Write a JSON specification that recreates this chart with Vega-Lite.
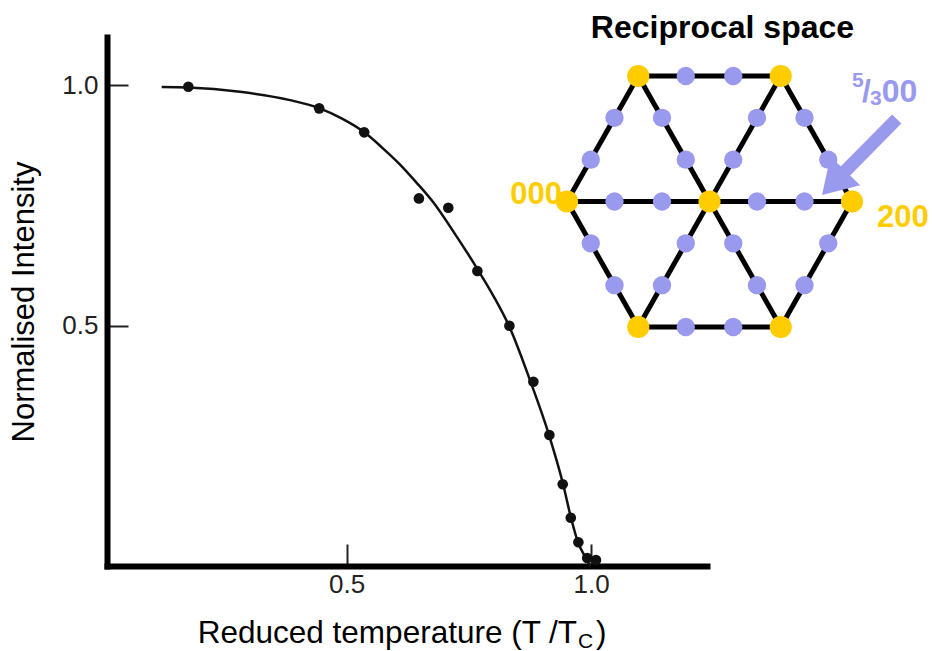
{
  "$schema": "https://vega.github.io/schema/vega-lite/v6.json",
  "width": 600,
  "height": 529,
  "autosize": "none",
  "padding": {"left": 107, "top": 37, "right": 225, "bottom": 85},
  "background": "white",
  "config": {"view": {"stroke": null}, "font": "Liberation Sans"},
  "datasets": {
    "curve": [
      {"t": 0.122, "i": 0.9958},
      {"t": 0.176, "i": 0.9948},
      {"t": 0.282, "i": 0.9861},
      {"t": 0.3844, "i": 0.9688},
      {"t": 0.4437, "i": 0.9522},
      {"t": 0.4908, "i": 0.9304},
      {"t": 0.5358, "i": 0.9023},
      {"t": 0.5726, "i": 0.8701},
      {"t": 0.6094, "i": 0.8347},
      {"t": 0.6421, "i": 0.7983},
      {"t": 0.6769, "i": 0.7568},
      {"t": 0.7219, "i": 0.6902},
      {"t": 0.7689, "i": 0.6154},
      {"t": 0.8016, "i": 0.5593},
      {"t": 0.8323, "i": 0.499},
      {"t": 0.875, "i": 0.3867},
      {"t": 0.914, "i": 0.2723},
      {"t": 0.9427, "i": 0.1705},
      {"t": 0.959, "i": 0.0998},
      {"t": 0.973, "i": 0.0499},
      {"t": 0.988, "i": 0.0187},
      {"t": 0.998, "i": 0.0}
    ],
    "points": [
      {"t": 0.1765, "i": 0.9965},
      {"t": 0.444, "i": 0.9516},
      {"t": 0.536, "i": 0.9017},
      {"t": 0.648, "i": 0.7644},
      {"t": 0.708, "i": 0.745},
      {"t": 0.7675, "i": 0.6133},
      {"t": 0.833, "i": 0.4996},
      {"t": 0.882, "i": 0.3832},
      {"t": 0.9147, "i": 0.2723},
      {"t": 0.942, "i": 0.17},
      {"t": 0.9585, "i": 0.1004},
      {"t": 0.974, "i": 0.0493},
      {"t": 0.992, "i": 0.0166},
      {"t": 1.01, "i": 0.0125}
    ],
    "edges": [
      {"x": 0, "y": 0, "x2": 0.5, "y2": 0.866},
      {"x": 0.5, "y": 0.866, "x2": 1.5, "y2": 0.866},
      {"x": 1.5, "y": 0.866, "x2": 2, "y2": 0},
      {"x": 2, "y": 0, "x2": 1.5, "y2": -0.866},
      {"x": 1.5, "y": -0.866, "x2": 0.5, "y2": -0.866},
      {"x": 0.5, "y": -0.866, "x2": 0, "y2": 0},
      {"x": 0, "y": 0, "x2": 2, "y2": 0},
      {"x": 0.5, "y": 0.866, "x2": 1.5, "y2": -0.866},
      {"x": 1.5, "y": 0.866, "x2": 0.5, "y2": -0.866}
    ],
    "nodes": [
      {"x": 0, "y": 0, "kind": "main"},
      {"x": 0.5, "y": 0.866, "kind": "main"},
      {"x": 1.5, "y": 0.866, "kind": "main"},
      {"x": 2, "y": 0, "kind": "main"},
      {"x": 1.5, "y": -0.866, "kind": "main"},
      {"x": 0.5, "y": -0.866, "kind": "main"},
      {"x": 1, "y": 0, "kind": "main"},
      {"x": 0.1667, "y": 0.2887, "kind": "sat"},
      {"x": 0.3333, "y": 0.5774, "kind": "sat"},
      {"x": 0.8333, "y": 0.866, "kind": "sat"},
      {"x": 1.1667, "y": 0.866, "kind": "sat"},
      {"x": 1.6667, "y": 0.5774, "kind": "sat"},
      {"x": 1.8333, "y": 0.2887, "kind": "sat"},
      {"x": 1.8333, "y": -0.2887, "kind": "sat"},
      {"x": 1.6667, "y": -0.5774, "kind": "sat"},
      {"x": 1.1667, "y": -0.866, "kind": "sat"},
      {"x": 0.8333, "y": -0.866, "kind": "sat"},
      {"x": 0.3333, "y": -0.5774, "kind": "sat"},
      {"x": 0.1667, "y": -0.2887, "kind": "sat"},
      {"x": 0.6667, "y": 0, "kind": "sat"},
      {"x": 0.3333, "y": 0, "kind": "sat"},
      {"x": 1.3333, "y": 0, "kind": "sat"},
      {"x": 1.6667, "y": 0, "kind": "sat"},
      {"x": 0.8333, "y": 0.2887, "kind": "sat"},
      {"x": 0.6667, "y": 0.5774, "kind": "sat"},
      {"x": 1.1667, "y": 0.2887, "kind": "sat"},
      {"x": 1.3333, "y": 0.5774, "kind": "sat"},
      {"x": 1.1667, "y": -0.2887, "kind": "sat"},
      {"x": 1.3333, "y": -0.5774, "kind": "sat"},
      {"x": 0.8333, "y": -0.2887, "kind": "sat"},
      {"x": 0.6667, "y": -0.5774, "kind": "sat"}
    ],
    "arrow": [
      {"x": 2.314, "y": 0.569, "x2": 1.892, "y2": 0.149}
    ]
  },
  "layer": [
    {
      "encoding": {
        "x": {
          "field": "t",
          "type": "quantitative",
          "scale": {"domain": [0.0102, 1.237], "nice": false, "zero": false},
          "axis": {
            "values": [0.5, 1.0],
            "format": ".1f",
            "title": null,
            "grid": false,
            "tickSize": -22,
            "tickWidth": 2,
            "tickColor": "#222",
            "domainWidth": 6,
            "domainColor": "#000",
            "domainCap": "square",
            "labelFontSize": 26,
            "labelColor": "#222",
            "labelPadding": 27,
            "labelFlush": false
          }
        },
        "y": {
          "field": "i",
          "type": "quantitative",
          "scale": {"domain": [0, 1.1], "nice": false, "zero": false},
          "axis": {
            "values": [0.5, 1.0],
            "format": ".1f",
            "title": "Normalised Intensity",
            "titleFontSize": 31,
            "titleFontWeight": "normal",
            "titleColor": "#000",
            "titlePadding": 21,
            "grid": false,
            "tickSize": -21,
            "tickWidth": 2,
            "tickColor": "#222",
            "domainWidth": 6,
            "domainColor": "#000",
            "domainCap": "square",
            "labelFontSize": 26,
            "labelColor": "#222",
            "labelPadding": 30,
            "labelFlush": false
          }
        }
      },
      "layer": [
        {
          "data": {"name": "curve"},
          "mark": {"type": "line", "interpolate": "monotone", "color": "#111", "strokeWidth": 2.5}
        },
        {
          "data": {"name": "points"},
          "mark": {"type": "point", "filled": true, "color": "#111", "size": 113, "opacity": 1}
        },
        {
          "data": {"values": [{"label": "Reduced temperature (T /T", "t": 0.9714, "i": -0.16}]},
          "mark": {"type": "text", "align": "right", "baseline": "alphabetic", "fontSize": 31.5, "color": "#000"},
          "encoding": {"text": {"field": "label"}}
        },
        {
          "data": {"values": [{"label": "C", "t": 0.9714, "i": -0.16}]},
          "mark": {"type": "text", "align": "left", "baseline": "alphabetic", "fontSize": 21, "color": "#000", "dx": 1, "dy": 5},
          "encoding": {"text": {"field": "label"}}
        },
        {
          "data": {"values": [{"label": ")", "t": 0.9714, "i": -0.16}]},
          "mark": {"type": "text", "align": "left", "baseline": "alphabetic", "fontSize": 31.5, "color": "#000", "dx": 19},
          "encoding": {"text": {"field": "label"}}
        }
      ]
    },
    {
      "encoding": {
        "x": {"field": "x", "type": "quantitative", "scale": {"domain": [0, 2], "range": [460, 745], "nice": false, "zero": false}, "axis": null},
        "y": {"field": "y", "type": "quantitative", "scale": {"domain": [-0.866, 0.866], "range": [290, 39], "nice": false, "zero": false}, "axis": null}
      },
      "layer": [
        {
          "data": {"name": "edges"},
          "mark": {"type": "rule", "color": "#000", "strokeWidth": 5},
          "encoding": {"x2": {"field": "x2"}, "y2": {"field": "y2"}}
        },
        {
          "data": {"name": "nodes"},
          "transform": [{"filter": "datum.kind === 'sat'"}],
          "mark": {"type": "circle", "color": "#9999ee", "size": 336, "opacity": 1}
        },
        {
          "data": {"name": "nodes"},
          "transform": [{"filter": "datum.kind === 'main'"}],
          "mark": {"type": "circle", "color": "#ffcc00", "size": 491, "opacity": 1}
        },
        {
          "data": {"name": "arrow"},
          "mark": {"type": "rule", "color": "#9999ee", "strokeWidth": 13},
          "encoding": {"x2": {"field": "x2"}, "y2": {"field": "y2"}}
        },
        {
          "data": {"name": "arrow"},
          "mark": {"type": "point", "filled": true, "color": "#9999ee", "opacity": 1, "size": 1764, "angle": 224, "shape": "M0,-1L0.986,0.6L-0.986,0.6Z"},
          "encoding": {"x": {"field": "x2"}, "y": {"field": "y2"}}
        },
        {
          "data": {"values": [{"label": "000", "x": 0, "y": 0}]},
          "mark": {"type": "text", "align": "right", "baseline": "alphabetic", "fontSize": 31, "fontWeight": "bold", "color": "#ffcc00", "dx": -5, "dy": 2},
          "encoding": {"text": {"field": "label"}}
        },
        {
          "data": {"values": [{"label": "200", "x": 2, "y": 0}]},
          "mark": {"type": "text", "align": "left", "baseline": "alphabetic", "fontSize": 31, "fontWeight": "bold", "color": "#ffcc00", "dx": 25, "dy": 25},
          "encoding": {"text": {"field": "label"}}
        },
        {
          "data": {"values": [{"label": "Reciprocal space", "x": 1.091, "y": 1.128}]},
          "mark": {"type": "text", "align": "center", "baseline": "alphabetic", "fontSize": 32, "fontWeight": "bold", "color": "#000"},
          "encoding": {"text": {"field": "label"}}
        },
        {
          "data": {"values": [{"label": "5", "x": 2.0, "y": 0.79}]},
          "mark": {"type": "text", "align": "left", "baseline": "alphabetic", "fontSize": 21, "fontWeight": "bold", "color": "#9999ee"},
          "encoding": {"text": {"field": "label"}}
        },
        {
          "data": {"values": [{"label": "/", "x": 2.07, "y": 0.687}]},
          "mark": {"type": "text", "align": "left", "baseline": "alphabetic", "fontSize": 32, "fontWeight": "bold", "color": "#9999ee"},
          "encoding": {"text": {"field": "label"}}
        },
        {
          "data": {"values": [{"label": "3", "x": 2.126, "y": 0.666}]},
          "mark": {"type": "text", "align": "left", "baseline": "alphabetic", "fontSize": 21, "fontWeight": "bold", "color": "#9999ee"},
          "encoding": {"text": {"field": "label"}}
        },
        {
          "data": {"values": [{"label": "00", "x": 2.208, "y": 0.689}]},
          "mark": {"type": "text", "align": "left", "baseline": "alphabetic", "fontSize": 32, "fontWeight": "bold", "color": "#9999ee"},
          "encoding": {"text": {"field": "label"}}
        }
      ]
    }
  ],
  "resolve": {"scale": {"x": "independent", "y": "independent"}}
}
